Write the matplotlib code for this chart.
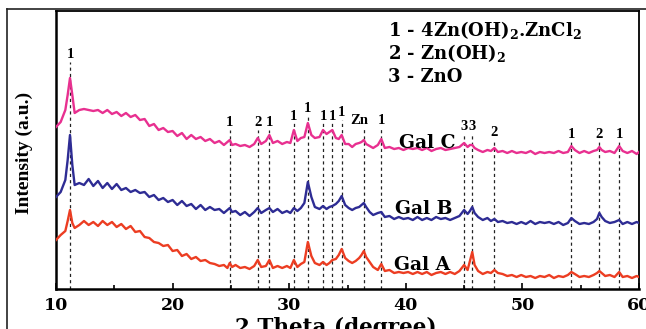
import matplotlib
matplotlib.use("Agg")
import matplotlib.pyplot as plt
from matplotlib.lines import Line2D
from matplotlib.ticker import MultipleLocator

plt.rcParams['font.family'] = ['DejaVu Serif']
plt.rcParams['font.weight'] = 'bold'
plt.rcParams['mathtext.fontset'] = 'custom'
plt.rcParams['mathtext.rm'] = 'DejaVu Serif:bold'
plt.rcParams['mathtext.bf'] = 'DejaVu Serif:bold'
plt.rcParams['mathtext.it'] = 'DejaVu Serif:bold'

# 2-theta grid (degrees)
two_theta = [
    10.0, 10.4, 10.8, 11.0, 11.2, 11.4, 11.6, 12.0, 12.4, 12.8,
    13.2, 13.6, 14.0, 14.4, 14.8, 15.2, 15.6, 16.0, 16.4, 16.8,
    17.2, 17.6, 18.0, 18.4, 18.8, 19.2, 19.6, 20.0, 20.4, 20.8,
    21.2, 21.6, 22.0, 22.4, 22.8, 23.2, 23.6, 24.0, 24.4, 24.7,
    24.9, 25.1, 25.4, 25.8, 26.2, 26.6, 27.0, 27.3, 27.6, 28.0,
    28.3, 28.6, 29.0, 29.4, 29.8, 30.1, 30.4, 30.7, 31.0, 31.3,
    31.6, 31.9, 32.2, 32.6, 32.9, 33.2, 33.45, 33.7, 34.0, 34.25,
    34.5, 34.8, 35.1, 35.4, 35.7, 36.0, 36.2, 36.4, 36.6, 36.9,
    37.2, 37.6, 37.9, 38.2, 38.6, 39.0, 39.4, 39.8, 40.2, 40.6,
    41.0, 41.4, 41.8, 42.2, 42.6, 43.0, 43.4, 43.8, 44.2, 44.6,
    45.0, 45.3, 45.5, 45.7, 45.9, 46.2, 46.6, 47.0, 47.3, 47.6,
    47.9, 48.3, 48.7, 49.1, 49.5, 49.9, 50.3, 50.7, 51.1, 51.5,
    51.9, 52.3, 52.7, 53.1, 53.5, 53.9, 54.2, 54.5, 54.9, 55.3,
    55.7, 56.1, 56.4, 56.6, 56.8, 57.1, 57.5, 57.9, 58.3, 58.6,
    59.0, 59.4, 59.8, 60.0,
]

gal_a = [
    49, 54, 58, 68, 79, 66, 61, 64, 68, 64,
    67, 63, 68, 64, 67, 62, 65, 60, 63, 57,
    58, 52, 51, 47, 46, 43, 44, 38, 39, 33,
    35, 30, 32, 28, 29, 26, 25, 23, 24, 21,
    26, 22, 24, 21, 22, 20, 23, 29, 22, 23,
    29, 21, 23, 21, 23, 21, 29, 22, 25, 27,
    47, 33, 26, 24, 27, 24, 26, 29, 30, 34,
    40, 31, 28, 26, 28, 31, 34, 38, 32, 27,
    22, 19, 25, 18, 19, 16, 17, 16, 17, 15,
    17, 15, 17, 14, 16, 17, 15, 17, 15, 18,
    24, 19, 28, 37, 24, 18, 15, 17, 16, 19,
    16, 15, 13, 14, 12, 14, 12, 13, 11, 13,
    12, 14, 11, 13, 12, 14, 17, 15, 12, 13,
    12, 14, 16, 18, 16, 13, 14, 12, 17, 12,
    13, 11, 13, 12,
]

gal_b = [
    92, 97, 109, 129, 154, 124, 104, 106, 104, 110,
    103, 108, 101, 106, 100, 105, 99, 101, 97, 99,
    96, 97, 92, 94, 89, 91, 87, 89, 84, 88,
    83, 85, 80, 84, 79, 82, 79, 80, 76, 79,
    81, 77, 78, 74, 77, 73, 77, 81, 76, 79,
    81, 77, 80, 76, 78, 76, 81, 78, 81, 86,
    107, 92, 82, 80, 83, 80, 82, 83, 85, 88,
    93, 84, 81, 79, 81, 82, 84, 86, 82, 77,
    74, 76, 77, 72, 73, 70, 72, 70, 71, 69,
    72, 69, 71, 69, 72, 70, 71, 69, 71, 73,
    79, 75, 78, 82, 76, 72, 69, 71, 68, 70,
    67, 68, 66, 67, 65, 67, 65, 68, 65, 67,
    66, 67, 65, 67, 64, 66, 71, 68, 65, 66,
    65, 67, 70, 76, 72, 68, 66, 67, 69, 65,
    67, 65, 67, 66,
]

gal_c = [
    162, 167, 179, 194, 211, 194, 176, 179, 180, 179,
    178, 179, 176, 179, 175, 177, 173, 176, 172, 174,
    169, 170, 163, 165, 159, 161, 157, 158, 153, 156,
    150, 154, 150, 152, 148, 150, 146, 148, 144, 147,
    149, 144, 145, 143, 144, 142, 145, 151, 145, 148,
    154, 146, 148, 145, 147, 146, 159, 148, 151, 152,
    166, 154, 151, 152, 159, 155, 157, 159, 151, 150,
    154, 145, 145, 142, 145, 146, 147, 149, 145, 143,
    141, 144, 150, 141, 142, 140, 141, 139, 141, 140,
    141, 139, 141, 138, 140, 141, 139, 140, 141, 142,
    146, 142, 144, 144, 141, 139, 137, 139, 138, 141,
    137, 138, 136, 138, 136, 137, 136, 138, 135, 137,
    136, 137, 136, 138, 136, 137, 143, 139, 136, 138,
    136, 138, 139, 142, 139, 137, 138, 136, 143, 138,
    136, 138, 135, 137,
]

series_names = ["Gal A", "Gal B", "Gal C"]

# reflection markers
peak_pos = [11.2, 24.9, 27.3, 28.3, 30.4, 31.6, 32.9, 33.7, 34.5, 36.4, 37.9,
            45.0, 45.7, 47.6, 54.2, 56.6, 58.3]
peak_labels = ["1", "1", "2", "1", "1", "1", "1", "1", "1", "", "1",
               "3", "3", "2", "1", "2", "1"]
peak_line_top = [227, 159, 159, 159, 166, 173, 166, 166, 169, 161, 161,
                 155, 155, 149, 147, 147, 147]
peak_label_y = [234, 167, 167, 167, 173, 180, 173, 173, 177, 169, 169,
                162, 162, 156, 154, 154, 154]

phase_legend = [r"1 - 4Zn(OH)$_{2}$.ZnCl$_{2}$", r"2 - Zn(OH)$_{2}$", "3 - ZnO"]

W, H = 646, 329
fig = plt.figure(figsize=(W / 100, H / 100), dpi=100)
ax = fig.add_axes([56 / W, 1 - 289 / H, (639 - 56) / W, (289 - 11) / H])

colors = {"Gal A": "#EC3D22", "Gal B": "#2E2C94", "Gal C": "#E83090"}

times = ['Liberation Serif']

for x, top, lab, ly in zip(peak_pos, peak_line_top, peak_labels, peak_label_y):
    ax.plot([x, x], [0, top], color="#222222", lw=0.9, ls=(0, (2.5, 2.5)), zorder=1)
    if lab:
        ax.text(x, ly, lab, ha="center", va="center", fontsize=10.5,
                fontweight="bold", family=times)
ax.text(36.0, 169, "Zn", ha="center", va="center", fontsize=10.5,
        fontweight="bold", family=times)

for name, ys in zip(series_names, [gal_a, gal_b, gal_c]):
    ax.plot(two_theta, ys, color=colors[name], lw=1.7, zorder=3)

ax.text(41.4, 24, "Gal A", ha="center", va="center", fontsize=13.5, fontweight="bold", zorder=4)
ax.text(41.5, 80, "Gal B", ha="center", va="center", fontsize=13.5, fontweight="bold", zorder=4)
ax.text(41.8, 146, "Gal C", ha="center", va="center", fontsize=13.5, fontweight="bold", zorder=4)

for i, t in enumerate(phase_legend):
    ax.text(38.5, 259 - i * 23.5, t, ha="left", va="center", fontsize=13, fontweight="bold")

ax.set_xlim(10, 60)
ax.set_ylim(0, 278)
ax.set_yticks([])
ax.xaxis.set_major_locator(MultipleLocator(10))
ax.xaxis.set_minor_locator(MultipleLocator(5))
ax.tick_params(axis="x", which="major", direction="in", length=4, width=1.2,
               labelsize=12.5, pad=6)
ax.tick_params(axis="x", which="minor", direction="in", length=3, width=1.2)
for lbl in ax.get_xticklabels():
    lbl.set_fontweight("bold")
for s in ["left", "bottom"]:
    ax.spines[s].set_linewidth(1.8)
for s in ["top", "right"]:
    ax.spines[s].set_linewidth(1.3)

fig.text(336 / W, 1 - 328 / H, "2 Theta (degree)", ha="center", va="center",
         fontsize=15.5, fontweight="bold")
fig.text(24 / W, 1 - 153 / H, "Intensity (a.u.)", ha="center", va="center",
         rotation=90, fontsize=14, fontweight="bold", family=times)

# outer frame lines
fig.add_artist(Line2D([7 / W, 7 / W], [0, 1 - 9 / H], transform=fig.transFigure,
                      color="#222222", lw=1.2))
fig.add_artist(Line2D([7 / W, 1], [1 - 9 / H, 1 - 9 / H], transform=fig.transFigure,
                      color="#222222", lw=1.2))

fig.savefig("out.png", dpi=100)
